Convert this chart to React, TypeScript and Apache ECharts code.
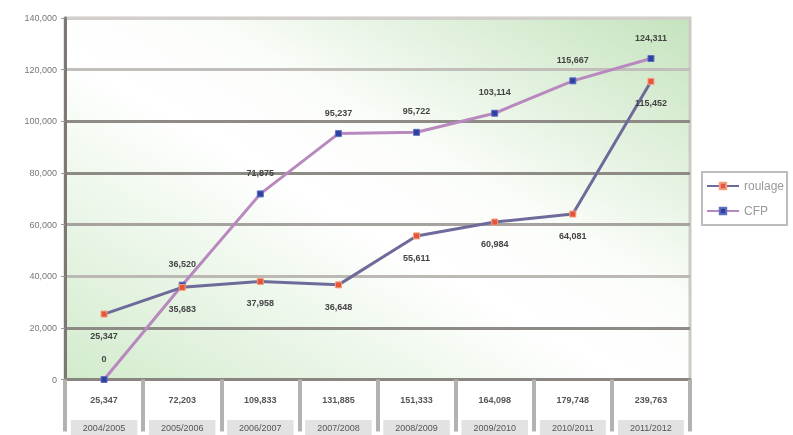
import React, { useEffect, useRef } from "react";
import * as echarts from "echarts";

const years = [
  "2004/2005",
  "2005/2006",
  "2006/2007",
  "2007/2008",
  "2008/2009",
  "2009/2010",
  "2010/2011",
  "2011/2012",
];
const roulageValues = [25347, 35683, 37958, 36648, 55611, 60984, 64081, 115452];
const cfpValues = [0, 36520, 71875, 95237, 95722, 103114, 115667, 124311];
const totals = [25347, 72203, 109833, 131885, 151333, 164098, 179748, 239763];
const yTicks = [0, 20000, 40000, 60000, 80000, 100000, 120000, 140000];

const fmt = (v: number) => v.toLocaleString("en-US");

export default function App() {
  const ref = useRef<HTMLDivElement>(null);
  useEffect(() => {
    if (!ref.current) return;
    const chart = echarts.init(ref.current, undefined, { renderer: "svg" });
    const font = "Liberation Sans, Arial, sans-serif";
    chart.setOption({
      animation: false,
      textStyle: { fontFamily: font },
      grid: {
        left: 65,
        right: 103,
        top: 18,
        bottom: 52,
        show: true,
        borderColor: "#cdcac6",
        borderWidth: 3,
        backgroundColor: {
          type: "linear",
          x: 0,
          y: 1,
          x2: 1,
          y2: 0,
          colorStops: [
            { offset: 0, color: "#d2ebcc" },
            { offset: 0.45, color: "#ffffff" },
            { offset: 0.6, color: "#fbfdfa" },
            { offset: 1, color: "#c4e3bd" },
          ],
        },
      },
      legend: {
        orient: "vertical",
        left: 702,
        top: 172,
        itemWidth: 32,
        itemHeight: 8,
        itemGap: 13,
        padding: [8, 3, 8, 4],
        backgroundColor: "#ffffff",
        borderColor: "#bdbdbd",
        borderWidth: 2,
        textStyle: { color: "#9a9a9a", fontSize: 12, fontFamily: font },
        data: ["roulage", "CFP"],
      },
      xAxis: {
        type: "category",
        data: years,
        boundaryGap: true,
        axisLine: { show: true, lineStyle: { color: "#8a8580", width: 3 } },
        axisTick: {
          show: true,
          interval: 0,
          length: 52,
          lineStyle: { color: "#b4b2ae", width: 4 },
        },
        axisLabel: {
          interval: 0,
          margin: 6,
          formatter: (value: string, index: number) =>
            `{v|${fmt(totals[index])}}\n{y|${value}}`,
          rich: {
            v: { fontSize: 9, color: "#555", lineHeight: 28, fontWeight: "bold" },
            y: {
              fontSize: 9,
              color: "#555",
              lineHeight: 28,
              backgroundColor: "#e2e2e2",
              padding: [3, 12],
            },
          },
        },
      },
      yAxis: {
        type: "value",
        min: 0,
        max: 140000,
        interval: 20000,
        axisLine: { show: true, lineStyle: { color: "#7e7874", width: 3 } },
        axisTick: { show: true, length: 4, lineStyle: { color: "#999", width: 1 } },
        axisLabel: {
          color: "#777",
          fontSize: 9,
          margin: 8,
          formatter: (v: number) => (yTicks.includes(v) ? fmt(v) : ""),
        },
        splitLine: {
          show: true,
          lineStyle: {
            width: 3,
            color: [
              "#8a8580",
              "#8e8a86",
              "#bcb9b4",
              "#a6a29e",
              "#8e8a86",
              "#8e8a86",
              "#c2bfbb",
              "#d2ceca",
            ],
          },
        },
      },
      series: [
        {
          name: "roulage",
          type: "line",
          data: roulageValues,
          symbol: "rect",
          symbolSize: 6,
          z: 3,
          itemStyle: { color: "#e4553a", borderColor: "#f3a080", borderWidth: 1 },
          lineStyle: { color: "#6e6a9a", width: 3 },
          label: {
            show: true,
            position: "bottom",
            distance: 14,
            color: "#444",
            fontSize: 9,
            fontWeight: "bold",
            formatter: (p: any) => fmt(p.value),
          },
        },
        {
          name: "CFP",
          type: "line",
          data: cfpValues,
          symbol: "rect",
          symbolSize: 6,
          z: 2,
          itemStyle: { color: "#2f40a0", borderColor: "#6070c0", borderWidth: 1 },
          lineStyle: { color: "#b888be", width: 3 },
          label: {
            show: true,
            position: "top",
            distance: 13,
            color: "#444",
            fontSize: 9,
            fontWeight: "bold",
            formatter: (p: any) => fmt(p.value),
          },
        },
      ],
    });
    return () => chart.dispose();
  }, []);
  return (
    <div
      ref={ref}
      style={{ position: "fixed", left: 0, top: 0, width: 793, height: 435 }}
    />
  );
}
